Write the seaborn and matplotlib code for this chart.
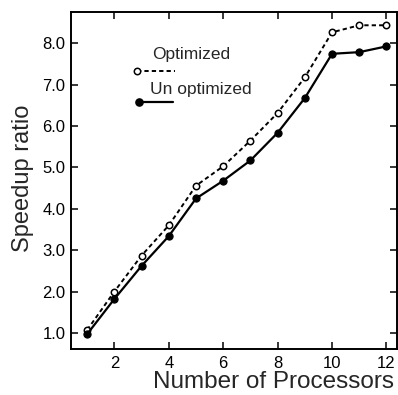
import matplotlib
matplotlib.use("Agg")
import matplotlib.pyplot as plt
import seaborn as sns
import pandas as pd
from matplotlib.lines import Line2D

processors = [1, 2, 3, 4, 5, 6, 7, 8, 9, 10, 11, 12]
optimized = [1.07, 2.00, 2.87, 3.60, 4.56, 5.03, 5.65, 6.32, 7.18, 8.27, 8.44, 8.44]
unoptimized = [0.97, 1.82, 2.62, 3.34, 4.25, 4.68, 5.17, 5.84, 6.68, 7.75, 7.79, 7.93]
xticks = [2, 4, 6, 8, 10, 12]
yticks = [1.0, 2.0, 3.0, 4.0, 5.0, 6.0, 7.0, 8.0]
labels = ["Optimized", "Un optimized"]

sns.set_style("ticks")
plt.rcParams['font.family'] = ['Liberation Sans', 'DejaVu Sans']

df = pd.DataFrame({
    "Processors": processors * 2,
    "Speedup": optimized + unoptimized,
    "Series": [labels[0]] * len(processors) + [labels[1]] * len(processors),
})

fig = plt.figure(figsize=(3.98, 3.95), dpi=100)
ax = fig.add_axes([0.178, 0.1165, 0.819, 0.853])

dash = (0, (2.2, 1.6))
sns.lineplot(data=df[df.Series == labels[0]], x="Processors", y="Speedup", ax=ax,
             color="black", linewidth=1.4, linestyle=dash, marker="o",
             markersize=4.6, markerfacecolor="white", markeredgecolor="black",
             markeredgewidth=1.1, legend=False)
sns.lineplot(data=df[df.Series == labels[1]], x="Processors", y="Speedup", ax=ax,
             color="black", linewidth=1.6, marker="o", markersize=5.2,
             markerfacecolor="black", markeredgecolor="black", legend=False)

ax.set_xlim(0.4, 12.38)
ax.set_ylim(0.61, 8.76)
ax.set_xticks(xticks)
ax.set_xticklabels([str(t) for t in xticks])
ax.set_yticks(yticks)
ax.set_yticklabels([f"{t:.1f}" for t in yticks])
ax.tick_params(direction="in", length=5, width=1.1, top=True, right=True,
               labelsize=12, colors="black")
ax.tick_params(axis="y", pad=4)
ax.tick_params(axis="x", pad=5)
for s in ax.spines.values():
    s.set_linewidth(1.4)
    s.set_color("black")

ax.set_xlabel("Number of Processors", fontsize=17.5, ha="right", x=0.99, labelpad=0)
ax.set_ylabel("Speedup ratio", fontsize=17, y=0.507, labelpad=6)

# legend (text above each key line)
ax.text(0.249, 0.861, labels[0], transform=ax.transAxes, fontsize=12.5, va="baseline", ha="left")
ax.text(0.243, 0.757, labels[1], transform=ax.transAxes, fontsize=12.5, va="baseline", ha="left")
ax.add_line(Line2D([0.203, 0.319], [0.825, 0.825], transform=ax.transAxes, color="black",
                   linewidth=1.4, linestyle=dash))
ax.add_line(Line2D([0.203], [0.825], transform=ax.transAxes, marker="o", markersize=4.6,
                   markeredgewidth=1.1, markerfacecolor="white", markeredgecolor="black",
                   linestyle="none"))
ax.add_line(Line2D([0.209, 0.313], [0.733, 0.733], transform=ax.transAxes, color="black",
                   linewidth=1.6))
ax.add_line(Line2D([0.209], [0.733], transform=ax.transAxes, marker="o", markersize=5.2,
                   markerfacecolor="black", markeredgecolor="black", linestyle="none"))

fig.savefig("out.png", dpi=100)
